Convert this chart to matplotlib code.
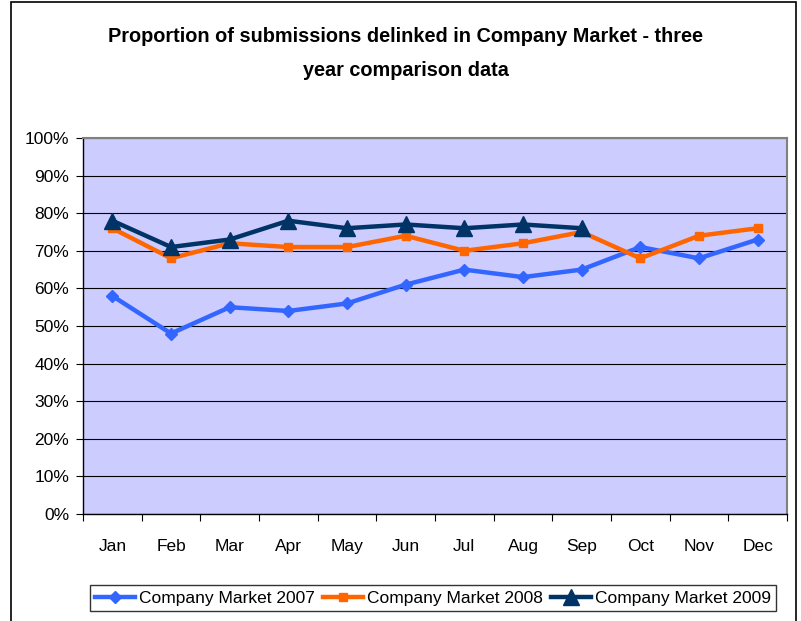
import numpy as np
import matplotlib.pyplot as plt
from matplotlib.patches import Rectangle

plt.rcParams['font.family'] = ['Liberation Sans', 'DejaVu Sans']

# Données (en %)
months = ["Jan", "Feb", "Mar", "Apr", "May", "Jun", "Jul", "Aug", "Sep", "Oct", "Nov", "Dec"]
market_2007 = [58, 48, 55, 54, 56, 61, 65, 63, 65, 71, 68, 73]
market_2008 = [76, 68, 72, 71, 71, 74, 70, 72, 75, 68, 74, 76]
market_2009 = [78, 71, 73, 78, 76, 77, 76, 77, 76]
y_ticks = [0, 10, 20, 30, 40, 50, 60, 70, 80, 90, 100]

fig = plt.figure(figsize=(8.01, 6.21), dpi=100)
ax = fig.add_axes([83/801, 1-514/621, (787-83)/801, (514-138)/621])
ax.set_facecolor("#CCCCFF")

# Cadre de la figure
fig.patches.append(Rectangle((11/801, -0.05), (796-11)/801, 1.05-2/621,
                             transform=fig.transFigure, fill=False,
                             edgecolor="black", linewidth=1.2))

x = np.arange(len(months)) + 0.5
ax.plot(x, market_2007, color="#3366FF", linewidth=3.2, marker="D", markersize=6,
        label="Company Market 2007")
ax.plot(x, market_2008, color="#FF6600", linewidth=3.2, marker="s", markersize=6,
        label="Company Market 2008")
ax.plot(x[:len(market_2009)], market_2009, color="#003366", linewidth=3.2, marker="^",
        markersize=11, label="Company Market 2009")

ax.set_xlim(0, 12)
ax.set_ylim(0, 100)
ax.set_yticks(y_ticks)
ax.set_yticklabels([f"{v}%" for v in y_ticks], fontsize=12.5)
ax.yaxis.grid(True, color="black", linewidth=0.8)
ax.set_axisbelow(True)

ax.set_xticks(np.arange(13))
ax.set_xticklabels([])
ax.set_xticks(x, minor=True)
ax.set_xticklabels(months, minor=True, fontsize=12.5)
ax.tick_params(axis="x", which="minor", length=0, pad=18)
ax.tick_params(axis="x", which="major", length=5, direction="out", color="black")
ax.tick_params(axis="y", length=5, direction="out", pad=5)

for side in ["top", "right"]:
    ax.spines[side].set_color("#808080")
    ax.spines[side].set_linewidth(1.5)
for side in ["left", "bottom"]:
    ax.spines[side].set_color("black")
    ax.spines[side].set_linewidth(1.0)

fig.text(406/801, 1-37/621, "Proportion of submissions delinked in Company Market - three",
         ha="center", va="center", fontsize=14.3, fontweight="bold")
fig.text(406/801, 1-71/621, "year comparison data",
         ha="center", va="center", fontsize=14.3, fontweight="bold")

leg = fig.legend(loc="center", bbox_to_anchor=(433/801, 1-598/621), ncol=3,
                 fontsize=12.5, frameon=True, fancybox=False, edgecolor="black",
                 handlelength=2.3, handletextpad=0.25, columnspacing=0.45,
                 borderpad=0.3, borderaxespad=0)
leg.get_frame().set_linewidth(1.0)

fig.savefig("out.png", dpi=100)
